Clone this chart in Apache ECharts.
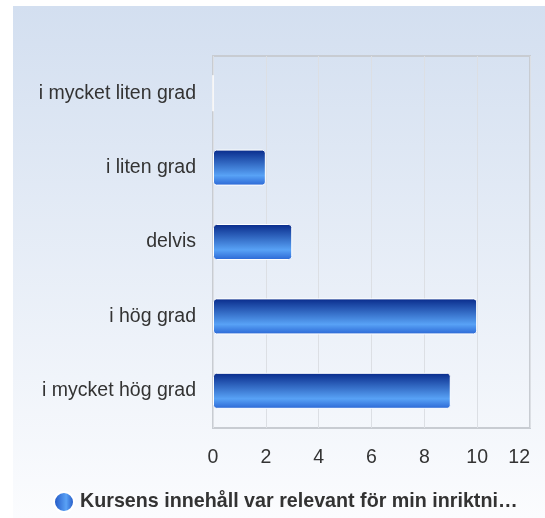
<!DOCTYPE html>
<html>
<head>
<meta charset="utf-8">
<script src="https://cdn.jsdelivr.net/npm/echarts@6/dist/echarts.min.js"></script>
<style>
  html, body { margin: 0; padding: 0; background: #fff; }
  #chart { width: 545px; height: 518px; }
</style>
</head>
<body>
<div id="chart"></div>
<script>
const categories = ['i mycket hög grad', 'i hög grad', 'delvis', 'i liten grad', 'i mycket liten grad'];
const values = [9, 10, 3, 2, 0];
const seriesName = 'Kursens innehåll var relevant för min inriktni…';

const chart = echarts.init(document.getElementById('chart'));

const barColor = new echarts.graphic.LinearGradient(0, 0, 0, 1, [
  { offset: 0, color: '#082a8a' },
  { offset: 0.72, color: '#58a2f6' },
  { offset: 1, color: '#2a66d4' }
]);

const option = {
  animation: false,
  textStyle: { fontFamily: 'Liberation Sans, Arial, sans-serif' },
  graphic: [{
    type: 'rect',
    z: -10,
    shape: { x: 13, y: 6, width: 532, height: 512 },
    style: {
      fill: new echarts.graphic.LinearGradient(0, 0, 0, 1, [
        { offset: 0, color: '#d3dff0' },
        { offset: 1, color: '#fbfcfe' }
      ])
    }
  }],
  grid: {
    left: 213, top: 56, right: 15, bottom: 90,
    show: true,
    borderColor: '#c8ccd2',
    borderWidth: 2,
    backgroundColor: 'transparent'
  },
  legend: {
    left: 53,
    top: 491,
    padding: 0,
    itemWidth: 20,
    itemHeight: 20,
    itemGap: 6,
    icon: 'circle',
    textStyle: { fontSize: 19.7, fontWeight: 'bold', color: '#333', padding: [0, 0, 0, 1] },
    data: [{
      name: seriesName,
      itemStyle: {
        color: new echarts.graphic.LinearGradient(0, 0, 1, 0, [
          { offset: 0, color: '#1c4fc0' },
          { offset: 0.6, color: '#5aa2f6' },
          { offset: 1, color: '#1a4cbc' }
        ])
      }
    }]
  },
  xAxis: {
    type: 'value',
    min: 0,
    max: 12,
    interval: 2,
    axisLine: { show: false },
    axisTick: { show: false },
    axisLabel: { fontSize: 19.5, color: '#333', margin: 20, alignMaxLabel: 'right' },
    splitLine: { lineStyle: { color: '#dcdfe4', width: 1 } }
  },
  yAxis: {
    type: 'category',
    data: categories,
    axisLine: { show: false },
    axisTick: { show: false },
    axisLabel: { fontSize: 19.5, color: '#333', margin: 17 }
  },
  series: [{
    name: seriesName,
    type: 'bar',
    data: values,
    barWidth: 36,
    itemStyle: {
      color: barColor,
      borderColor: '#ffffff',
      borderWidth: 1,
      borderRadius: 3
    }
  }]
};

chart.setOption(option);
</script>
</body>
</html>
